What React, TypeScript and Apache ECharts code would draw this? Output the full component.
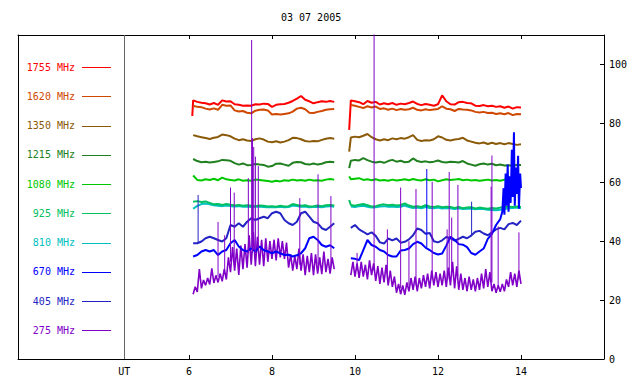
import React, { useEffect, useRef } from "react";
import * as echarts from "echarts";

const MONO = "DejaVu Sans Mono, monospace";
const TITLE = "03 07 2005";

const NAMES = ["1755 MHz", "1620 MHz", "1350 MHz", "1215 MHz", "1080 MHz", "925 MHz", "810 MHz", "670 MHz", "405 MHz", "275 MHz"];
const COLORS = ["#ff0000", "#d04800", "#8a5a08", "#208020", "#00c800", "#00c060", "#00c0c0", "#0000ff", "#2424c4", "#8000c8"];

const X_TICKS = [6, 8, 10, 12, 14];
const UT_POS = 4.44;
const Y_TICKS = [0, 20, 40, 60, 80, 100];

// segment 1: 6.1 .. 9.5 step 0.1 ; segment 2: 9.9 .. 14.0 step 0.1
const S1_START = 6.1;
const S2_START = 9.9;

const F1755_1 = [87.8,87.3,87.0,86.8,86.4,86.9,86.3,87.8,87.4,87.5,86.5,86.3,86.0,86.1,86.0,86.5,86.4,86.7,86.6,85.6,86.3,86.5,86.6,87.0,87.6,88.4,89.3,88.0,87.5,86.8,87.2,87.5,87.3,87.6,87.3];
const F1755_2 = [87.8,87.5,87.2,86.5,87.6,87.0,87.3,86.4,86.8,86.5,86.9,86.3,86.7,86.5,86.9,87.4,86.6,86.2,86.6,86.3,86.0,86.5,89.5,87.5,86.5,86.4,87.2,87.3,86.9,86.8,86.0,85.9,86.2,85.8,86.0,85.6,85.8,85.3,85.7,85.0,85.5,85.4];
const F1620_1 = [86.0,85.6,85.5,85.0,84.7,85.1,84.6,86.3,86.0,86.1,84.4,84.0,84.2,83.6,83.4,84.3,84.6,84.7,84.4,83.0,83.2,83.0,83.2,83.4,84.0,85.0,85.3,84.8,83.6,83.5,83.9,84.2,84.6,84.8,84.9];
const F1620_2 = [86.2,86.0,85.6,85.2,85.8,85.4,85.7,84.9,85.1,84.6,85.0,84.5,84.9,84.6,84.8,85.3,84.6,84.4,84.8,84.5,84.7,84.9,85.8,85.0,84.8,84.2,84.9,84.7,84.6,84.4,83.9,83.7,83.9,83.5,83.6,83.2,83.4,83.1,83.5,82.8,83.2,83.1];
const F1350_1 = [76.0,75.6,75.3,75.0,74.7,75.1,75.4,76.2,76.0,75.6,74.8,74.3,74.6,74.2,74.0,74.6,74.9,74.5,73.8,73.6,73.9,73.5,73.8,74.3,75.1,75.0,74.6,74.0,73.8,74.0,73.9,74.4,74.8,75.0,74.8];
const F1350_2 = [75.2,75.5,75.3,75.8,76.4,75.3,74.6,74.2,74.6,74.3,74.9,74.6,75.0,74.8,75.3,76.0,74.4,74.0,74.3,74.2,74.6,75.6,75.2,74.4,74.2,74.5,74.7,75.1,74.2,73.8,73.4,73.2,73.5,73.0,73.4,73.0,73.3,72.9,73.3,73.0,72.7,72.9];
const F1215_1 = [67.9,67.2,66.8,67.0,66.7,66.9,67.1,67.6,67.5,67.3,66.5,66.0,66.4,65.8,65.9,66.2,66.0,65.9,65.3,65.5,66.3,66.4,66.0,65.6,66.6,66.9,66.8,66.2,66.0,66.4,66.0,66.3,66.8,67.0,66.8];
const F1215_2 = [67.3,67.6,67.4,68.2,67.5,67.0,66.7,67.0,66.6,67.2,67.6,67.0,67.3,66.8,67.0,68.1,67.2,66.9,67.1,66.8,67.0,67.4,66.9,66.7,67.0,66.9,66.7,67.2,66.4,66.0,65.6,66.1,66.4,66.0,66.3,65.8,66.0,65.7,65.8,65.6,65.9,65.9];
const F1080_1 = [62.3,60.8,60.6,61.0,60.8,61.2,60.7,61.6,61.0,60.8,60.6,61.0,60.5,60.7,60.5,60.9,60.8,60.6,60.4,60.2,60.5,60.3,60.7,60.5,60.9,60.6,60.8,60.5,60.9,60.6,60.7,60.5,60.9,61.1,60.9];
const F1080_2 = [61.0,61.2,61.4,60.8,61.0,60.7,61.0,60.6,60.8,60.5,60.9,60.6,60.8,61.0,60.7,61.1,60.8,60.6,61.0,60.7,60.9,60.3,60.7,61.0,60.8,60.9,61.1,60.7,60.9,60.6,60.8,60.5,60.7,60.9,60.6,60.8,60.5,60.9,60.4,60.6,60.3,60.5];
const F925_1 = [53.4,53.6,53.3,53.5,53.0,52.5,52.6,52.3,52.6,52.4,52.1,52.3,52.0,52.2,52.0,51.9,52.1,52.0,51.8,51.9,51.7,52.0,51.8,51.9,52.6,52.3,52.0,52.2,51.8,51.9,52.1,51.9,52.2,52.3,52.1];
const F925_2 = [52.3,52.0,52.4,52.6,52.2,51.8,51.9,52.3,52.5,52.2,52.4,52.1,52.3,52.8,52.1,51.7,51.9,51.6,52.2,51.8,51.6,51.9,51.5,51.7,51.6,51.3,51.6,51.2,51.4,51.5,51.1,51.4,51.2,51.0,51.3,51.1,51.4,51.5,51.8,51.6,51.8,51.6];
const F810_1 = [51.0,52.0,52.6,52.8,52.5,52.2,52.0,51.9,52.1,51.9,51.8,51.9,51.7,51.8,51.6,51.7,51.8,51.6,51.5,51.6,51.5,51.7,51.5,51.6,52.1,51.9,51.7,51.8,51.5,51.6,51.7,51.5,51.8,51.9,51.7];
const F810_2 = [51.8,51.6,51.9,52.0,51.7,51.4,51.5,51.8,51.9,51.7,51.8,51.6,51.7,52.1,51.6,51.3,51.4,51.2,51.6,51.3,51.2,51.4,51.1,51.3,51.2,50.9,51.2,50.9,51.0,51.1,50.8,51.0,50.9,50.7,50.6,50.5,50.7,50.9,51.2,51.3,51.4,51.3];
const F670_1 = [34.8,35.3,36.5,37.0,36.5,37.0,35.3,36.5,37.0,39.3,40.4,38.2,37.0,36.5,37.6,36.5,38.2,37.0,36.5,35.9,36.5,35.9,35.3,35.4,34.8,35.2,35.9,37.6,41.0,41.5,40.4,38.7,38.1,38.6,37.6];
// 9.9 .. 13.5
const F670_2 = [34.2,34.0,33.6,37.0,40.4,38.7,38.1,37.0,36.5,35.3,34.8,34.8,36.8,37.0,37.5,39.0,39.8,39.2,37.8,37.0,36.0,35.5,35.8,38.5,41.5,40.5,39.0,38.8,38.0,36.0,35.4,36.5,37.5,40.8,42.5,45.5,47.5];
// burst at the end of the 670 MHz record: [time, value]
const F670_BURST = [[13.55,50],[13.58,58],[13.6,49],[13.63,63],[13.65,52],[13.68,66],[13.7,50],[13.73,62],[13.75,53],[13.78,71],[13.8,55],[13.83,77],[13.85,52],[13.88,65],[13.9,56],[13.93,69],[13.95,51],[13.98,63],[14.0,58]];
const F405_1 = [39.3,39.3,39.9,41.0,41.5,41.0,40.4,39.9,41.0,45.5,44.9,46.1,44.9,46.6,47.8,47.2,47.8,48.3,47.8,49.5,50.0,49.5,47.2,46.1,45.5,46.6,49.5,50.0,48.3,46.6,46.1,44.4,43.8,44.9,46.1];
const F405_2 = [44.5,45.5,44.0,43.2,42.3,43.0,41.8,39.6,39.2,40.9,40.3,40.9,39.5,39.8,40.6,42.0,44.3,43.8,42.5,42.8,40.0,39.6,40.3,41.4,41.0,40.2,40.8,41.5,41.0,41.9,43.2,43.5,42.6,42.0,43.0,44.0,44.5,44.0,45.8,46.2,45.5,47.0];
// 275 MHz sampled every 0.05 h
const F275_1 = [22.0,24.5,22.8,30.5,24.0,26.8,25.0,27.5,25.3,30.8,25.8,28.4,26.0,29.0,26.4,30.5,27.0,34.5,29.5,38.0,30.0,37.5,28.5,38.5,30.5,39.0,31.0,42.0,32.0,43.0,31.5,41.5,32.0,40.5,31.5,41.0,33.0,40.0,34.0,40.5,33.5,41.0,34.5,40.0,34.0,39.5,31.0,35.5,30.0,35.0,30.5,37.5,30.0,35.5,28.5,35.0,29.5,36.0,28.5,35.5,29.0,34.5,28.8,36.5,29.5,34.0,29.0,34.5,30.5];
const F275_2 = [28.5,33.0,28.0,32.5,27.5,33.0,28.0,32.0,27.0,33.5,28.5,32.5,26.5,31.5,25.5,31.0,26.0,32.0,25.0,30.0,24.5,28.0,22.5,25.5,22.0,25.0,21.8,26.0,23.0,27.5,23.5,28.0,23.0,27.5,24.0,28.5,24.5,29.0,24.0,30.0,25.0,29.5,24.5,29.0,25.0,30.0,24.5,31.0,25.0,33.0,24.0,31.5,23.5,29.0,23.5,27.5,23.0,28.0,23.5,27.0,23.0,27.5,23.5,29.0,24.0,30.5,24.5,29.5,23.0,25.5,22.5,25.0,22.8,25.5,23.0,27.0,24.5,29.5,25.0,29.0,24.5,30.0,25.5];

// start transients of each record [time, value] (index matches NAMES), null if none
const START1: (number[] | null)[] = [[6.08, 82.5], null, null, null, null, null, null, null, null, null];
const START2: (number[] | null)[] = [[9.86, 77.8], null, [9.86, 70.4], [9.86, 64.8], [9.86, 62.0], [9.86, 54.0], null, null, null, null];

// spikes: [time, low, high]
const SPIKES_275 = [[6.70,28,46.5],[6.86,29,42],[7.00,33,58.2],[7.09,32,56.5],[7.43,36,61.4],[7.51,38,108.3],[7.53,36,75],[7.56,37,72],[7.60,36,68.7],[7.67,36,65.5],[8.67,32,54.6],[9.11,32,62.7],[9.42,31,55.3],[10.05,30,36],[10.46,30,115],[10.78,28,44],[11.10,24,58.2],[11.30,25,40],[11.47,25,57.7],[11.86,27,60.2],[12.22,27,44],[12.27,27,63.5],[12.33,28,48],[12.48,28,59.1],[13.28,26,58.5],[13.30,26,69.1],[13.45,24,45],[13.95,27,43]];
const SPIKES_670 = [[11.73,38,64.5]];
const SPIKES_405 = [[6.22,39.3,55.7],[12.81,42,53.4]];

const SEG1 = [F1755_1, F1620_1, F1350_1, F1215_1, F1080_1, F925_1, F810_1, F670_1, F405_1];
const SEG2 = [F1755_2, F1620_2, F1350_2, F1215_2, F1080_2, F925_2, F810_2, F670_2, F405_2];

const toPairs = (start: number, step: number, vals: number[]) =>
  vals.map((v, i) => [Math.round((start + i * step) * 1000) / 1000, v]);

function buildData(i: number): any[] {
  if (i === 9) {
    return [...toPairs(S1_START, 0.05, F275_1), null, ...toPairs(S2_START, 0.05, F275_2)];
  }
  const a: any[] = [];
  if (START1[i]) a.push(START1[i]);
  a.push(...toPairs(S1_START, 0.1, SEG1[i]));
  a.push(null);
  if (START2[i]) a.push(START2[i]);
  a.push(...toPairs(S2_START, 0.1, SEG2[i]));
  if (i === 7) a.push(...F670_BURST);
  return a;
}

function spikeData(sp: number[][]): any[] {
  const a: any[] = [];
  sp.forEach((s) => {
    a.push([s[0], s[1]], [s[0], s[2]], null);
  });
  return a;
}

export default function App() {
  const ref = useRef<HTMLDivElement>(null);
  useEffect(() => {
    if (!ref.current) return;
    const chart = echarts.init(ref.current, undefined, { renderer: "svg" });

    const drawOrder = [0, 1, 2, 3, 4, 6, 5, 9, 8, 7];
    const series: any[] = drawOrder.map((i, k) => ({
      type: "line",
      name: NAMES[i],
      data: buildData(i),
      showSymbol: false,
      symbol: "none",
      connectNulls: false,
      clip: true,
      lineStyle: { color: COLORS[i], width: i === 9 ? 1.6 : 2 },
      itemStyle: { color: COLORS[i] },
      z: 2 + k,
      ...(k === 0
        ? {
            markLine: {
              silent: true,
              symbol: "none",
              label: { show: false },
              lineStyle: { color: "#666666", width: 1, type: "solid" },
              data: [{ xAxis: UT_POS }],
            },
          }
        : {}),
    }));
    const spikeSets: [number, number[][]][] = [[9, SPIKES_275], [8, SPIKES_405], [7, SPIKES_670]];
    spikeSets.forEach(([i, sp]) => {
      series.push({
        type: "line",
        name: NAMES[i] + " spikes",
        data: spikeData(sp),
        showSymbol: false,
        symbol: "none",
        connectNulls: false,
        clip: true,
        lineStyle: { color: COLORS[i], width: 1 },
        z: 20,
      });
    });

    const graphic: any[] = [];
    NAMES.forEach((n, i) => {
      const y = 67 + i * 29.25;
      graphic.push({
        type: "text",
        x: 75,
        y,
        style: { text: n, fill: COLORS[i], font: `10px ${MONO}`, textAlign: "right", textVerticalAlign: "middle" },
      });
      graphic.push({
        type: "line",
        shape: { x1: 82, y1: Math.round(y) + 0.5, x2: 111, y2: Math.round(y) + 0.5 },
        style: { stroke: COLORS[i], lineWidth: 1 },
      });
    });

    const axisLabelStyle = { fontFamily: MONO, fontSize: 10, color: "#000" };
    chart.setOption({
      animation: false,
      backgroundColor: "#ffffff",
      title: {
        text: TITLE,
        left: 281,
        top: 12,
        padding: 0,
        textStyle: { fontFamily: MONO, fontSize: 10, fontWeight: "normal", color: "#000" },
      },
      grid: { left: 18, right: 36, top: 35, bottom: 25 },
      xAxis: [
        {
          type: "value",
          min: 1.88,
          max: 16,
          position: "bottom",
          axisLine: { show: true, onZero: false, lineStyle: { color: "#000", width: 1 } },
          splitLine: { show: false },
          axisTick: { show: true, inside: true, length: 4, lineStyle: { color: "#000" }, customValues: X_TICKS },
          axisLabel: {
            ...axisLabelStyle,
            margin: 7,
            customValues: [UT_POS, ...X_TICKS],
            formatter: (v: number) => (v < 5 ? "UT" : String(v)),
          },
        },
        {
          type: "value",
          min: 1.88,
          max: 16,
          position: "top",
          axisLine: { show: true, onZero: false, lineStyle: { color: "#000", width: 1 } },
          splitLine: { show: false },
          axisTick: { show: true, inside: true, length: 4, lineStyle: { color: "#000" }, customValues: X_TICKS },
          axisLabel: { show: false },
        },
      ],
      yAxis: [
        {
          type: "value",
          min: 0,
          max: 110,
          position: "right",
          axisLine: { show: true, onZero: false, lineStyle: { color: "#000", width: 1 } },
          splitLine: { show: false },
          axisTick: { show: true, inside: true, length: 4, lineStyle: { color: "#000" }, customValues: Y_TICKS },
          axisLabel: { ...axisLabelStyle, margin: 5, customValues: Y_TICKS },
        },
        {
          type: "value",
          min: 0,
          max: 110,
          position: "left",
          axisLine: { show: true, onZero: false, lineStyle: { color: "#000", width: 1 } },
          splitLine: { show: false },
          axisTick: { show: false },
          axisLabel: { show: false },
        },
      ],
      graphic,
      series,
    });
    return () => chart.dispose();
  }, []);
  return <div ref={ref} style={{ position: "absolute", left: 0, top: 0, width: 640, height: 384, background: "#fff" }} />;
}
